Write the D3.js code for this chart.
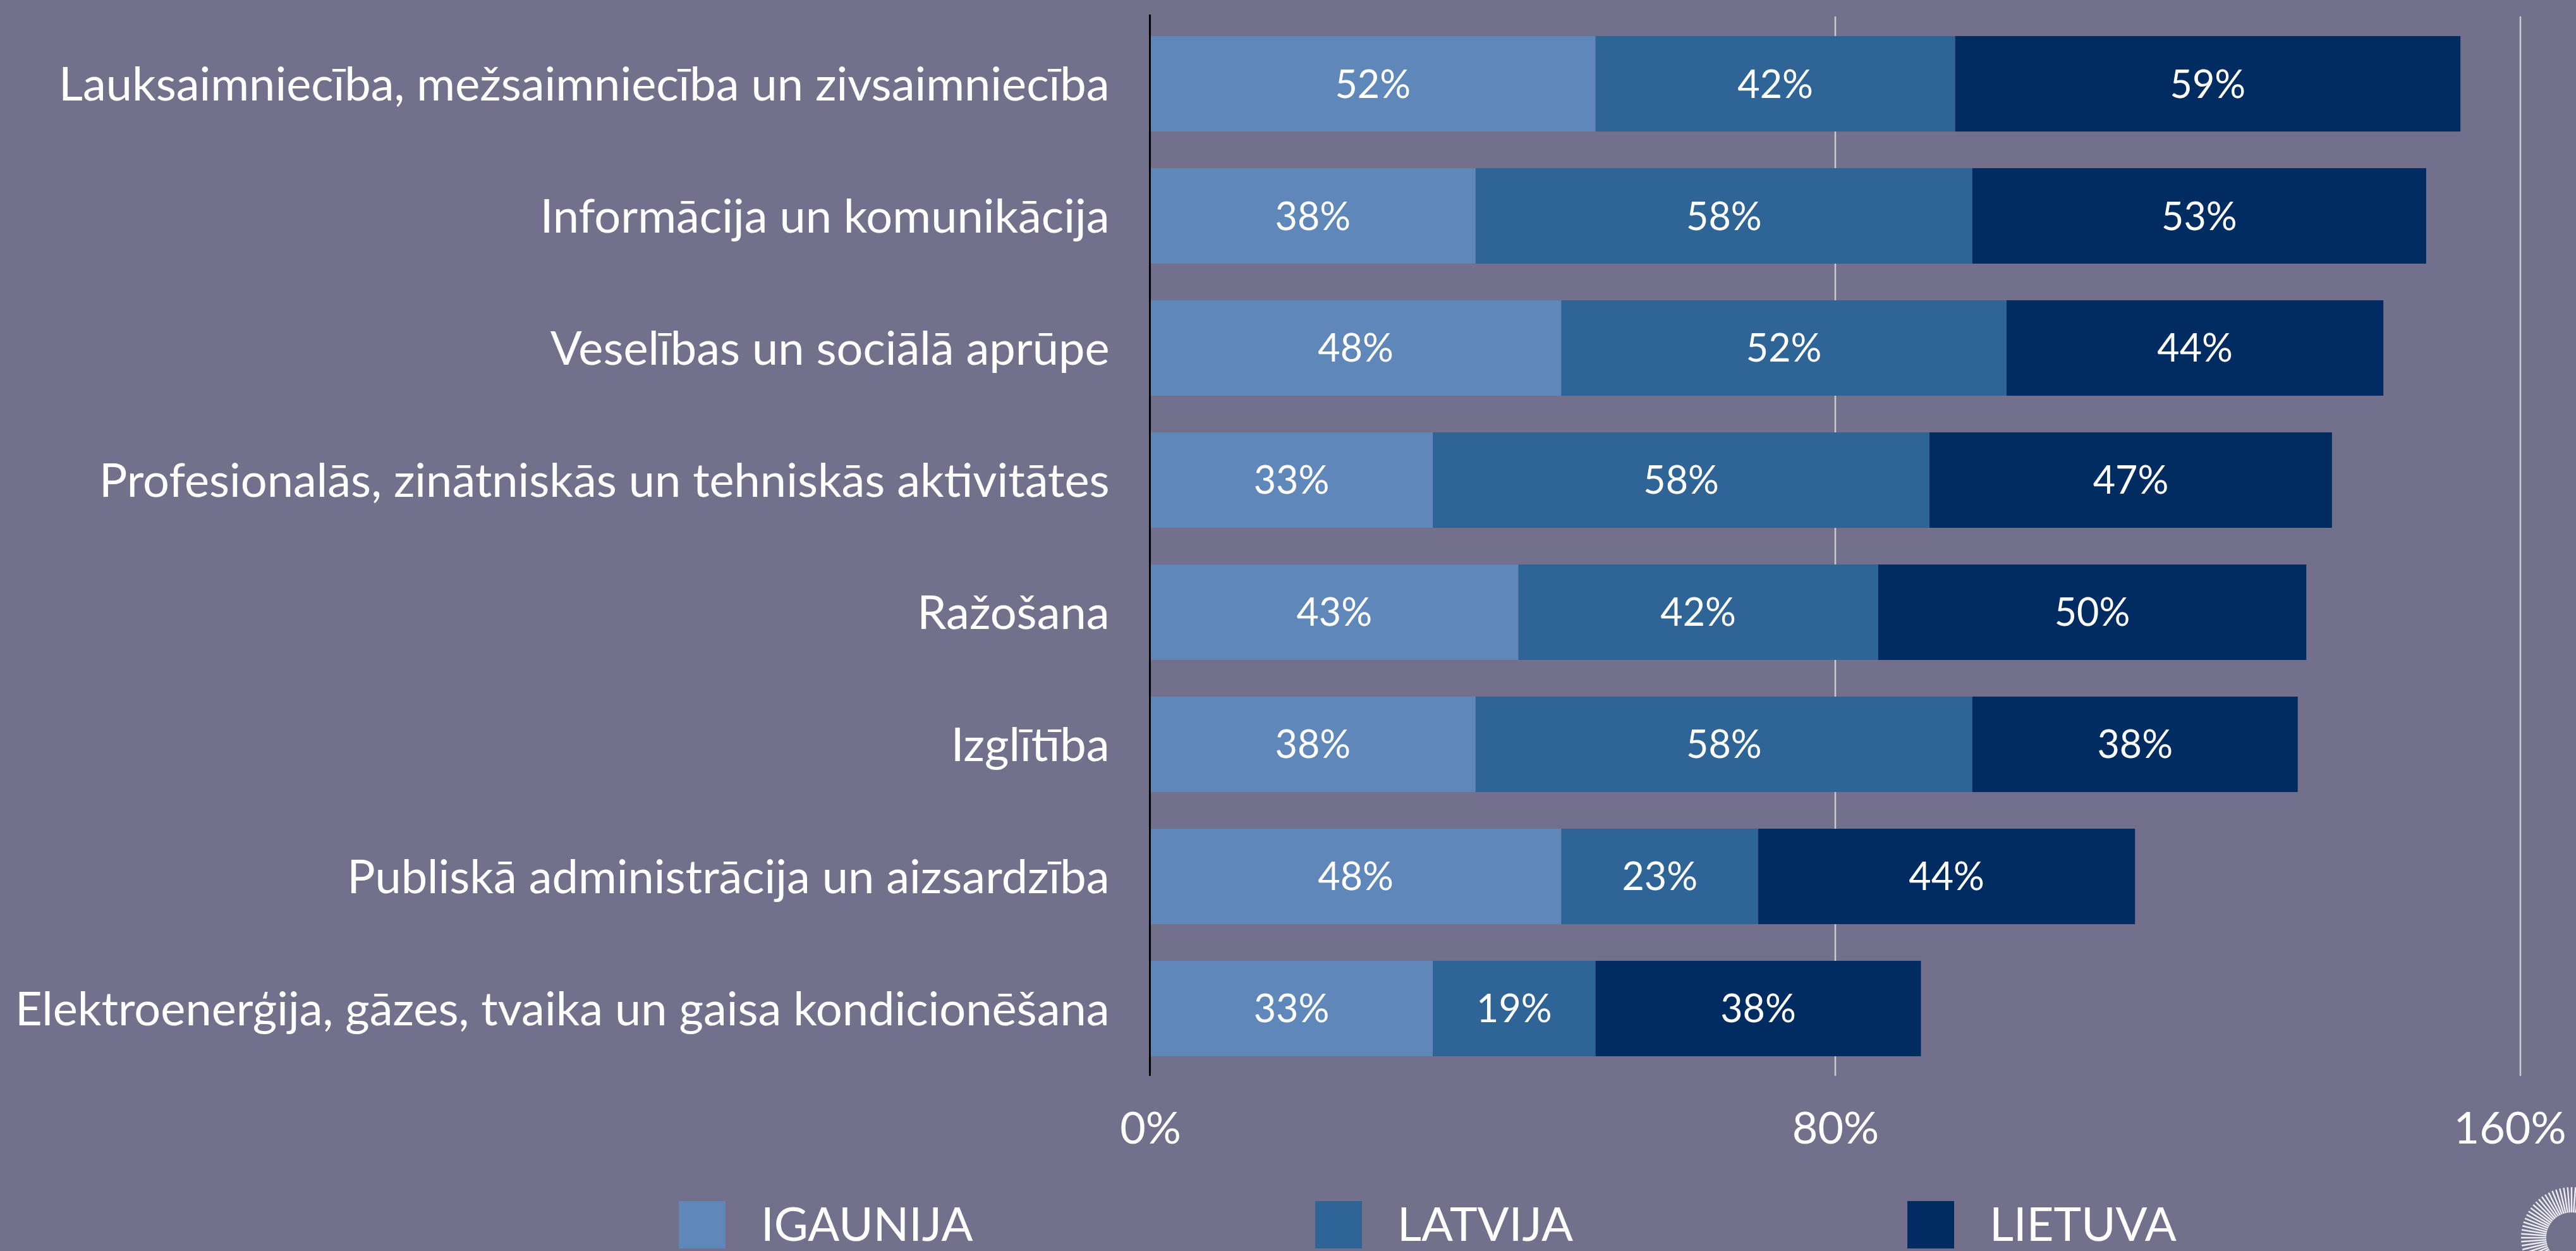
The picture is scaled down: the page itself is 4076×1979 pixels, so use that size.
<!DOCTYPE html>
<html>
<head>
<meta charset="utf-8">
<script src="https://cdn.jsdelivr.net/npm/d3@7"></script>
<style>
  html, body { margin: 0; padding: 0; background: #72708a; }
  svg { display: block; }
  text { font-family: Lato, "Open Sans", sans-serif; fill: #ffffff; }
</style>
</head>
<body>
<svg id="chart" width="4076" height="1979"></svg>
<script>
// Sectors, top to bottom
const categories = [
  "Lauksaimniecība, mežsaimniecība un zivsaimniecība",
  "Informācija un komunikācija",
  "Veselības un sociālā aprūpe",
  "Profesionalās, zinātniskās un tehniskās aktivitātes",
  "Ražošana",
  "Izglītība",
  "Publiskā administrācija un aizsardzība",
  "Elektroenerģija, gāzes, tvaika un gaisa kondicionēšana"
];

// Shares per country (%)
const igaunija = [52, 38, 48, 33, 43, 38, 48, 33];
const latvija  = [42, 58, 52, 58, 42, 58, 23, 19];
const lietuva  = [59, 53, 44, 47, 50, 38, 44, 38];

const seriesNames = ["IGAUNIJA", "LATVIJA", "LIETUVA"];
const seriesColors = ["#5f87b9", "#2e6496", "#002c62"];
const tickValues = [0, 80, 160];

const rows = categories.map((c, i) => ({
  category: c,
  IGAUNIJA: igaunija[i],
  LATVIJA: latvija[i],
  LIETUVA: lietuva[i]
}));

const svg = d3.select("#chart");

const x = d3.scaleLinear().domain([0, 160]).range([1820, 3988]);
const y = d3.scaleBand()
  .domain(categories)
  .range([23, 1705])
  .paddingInner(0.2775)
  .paddingOuter(0.163);
const color = d3.scaleOrdinal().domain(seriesNames).range(seriesColors);

// Vertical gridlines
svg.append("g")
  .selectAll("line")
  .data(tickValues.filter(v => v > 0))
  .join("line")
  .attr("x1", d => x(d)).attr("x2", d => x(d))
  .attr("y1", 26).attr("y2", 1702)
  .attr("stroke", "#c9c9cf")
  .attr("stroke-width", 2.5);

// Stacked bars
const stacked = d3.stack().keys(seriesNames)(rows);

const layers = svg.append("g")
  .selectAll("g")
  .data(stacked)
  .join("g")
  .attr("fill", d => color(d.key));

layers.selectAll("rect")
  .data(d => d)
  .join("rect")
  .attr("x", d => x(d[0]))
  .attr("width", d => x(d[1]) - x(d[0]))
  .attr("y", d => y(d.data.category))
  .attr("height", y.bandwidth());

// Value labels in the centre of each segment
const labels = svg.append("g")
  .attr("font-size", 61)
  .attr("text-anchor", "middle");

stacked.forEach(layer => {
  labels.selectAll(null)
    .data(layer)
    .join("text")
    .attr("x", d => (x(d[0]) + x(d[1])) / 2)
    .attr("y", d => y(d.data.category) + y.bandwidth() / 2)
    .attr("dy", "0.36em")
    .text(d => (d[1] - d[0]) + "%");
});

// Category axis
const yAxis = svg.append("g")
  .attr("transform", "translate(1819.5,0)")
  .call(d3.axisLeft(y).tickSize(0).tickPadding(64));
yAxis.select(".domain").remove();
yAxis.selectAll("text")
  .attr("font-size", 74)
  .attr("font-family", null)
  .attr("fill", "#ffffff")
  .attr("dy", "0.36em");

// Zero line
svg.append("line")
  .attr("x1", 1819.5).attr("x2", 1819.5)
  .attr("y1", 23).attr("y2", 1702)
  .attr("stroke", "#000000")
  .attr("stroke-width", 3);

// Value axis
const xAxis = svg.append("g")
  .attr("transform", "translate(0,1757)")
  .call(d3.axisBottom(x).tickValues(tickValues).tickSize(0).tickPadding(0)
    .tickFormat(d => d + "%"));
xAxis.select(".domain").remove();
xAxis.selectAll("text")
  .attr("font-size", 70)
  .attr("font-family", null)
  .attr("fill", "#ffffff")
  .attr("dy", "0.74em");
// keep the last tick label inside the right edge
xAxis.selectAll(".tick")
  .filter(d => d === 160)
  .select("text")
  .attr("text-anchor", "end")
  .attr("x", 72);

// Legend
const legendX = [1074, 2081, 3018];
const legend = svg.append("g")
  .selectAll("g")
  .data(seriesNames)
  .join("g")
  .attr("transform", (d, i) => `translate(${legendX[i]},1900)`);
legend.append("rect")
  .attr("width", 74).attr("height", 75)
  .attr("fill", d => color(d));
legend.append("text")
  .attr("x", 130).attr("y", 63)
  .attr("font-size", 74)
  .text(d => d);

// Sunburst emblem in the corner
const rays = d3.range(0, 360, 4.5);
svg.append("g")
  .attr("transform", "translate(4069,1958)")
  .selectAll("line")
  .data(rays)
  .join("line")
  .attr("x1", a => 40 * Math.cos(a * Math.PI / 180))
  .attr("y1", a => 40 * Math.sin(a * Math.PI / 180))
  .attr("x2", a => 80 * Math.cos(a * Math.PI / 180))
  .attr("y2", a => 80 * Math.sin(a * Math.PI / 180))
  .attr("stroke", "#ececf0")
  .attr("stroke-width", 2.5);
</script>
</body>
</html>
